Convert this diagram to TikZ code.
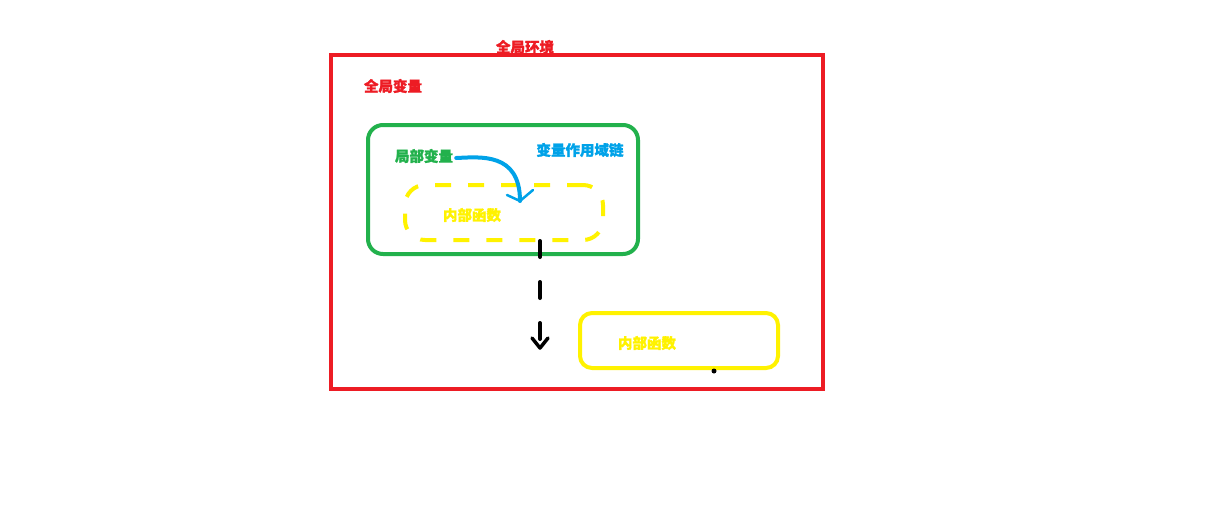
\documentclass[tikz,border=0pt]{standalone}
\usepackage{fontspec}
\newfontfamily\cjk[FakeBold=1.5]{Noto Sans CJK SC}
\definecolor{myred}{HTML}{ED1C24}
\definecolor{mygreen}{HTML}{22B14C}
\definecolor{myblue}{HTML}{00A2E8}
\definecolor{myyellow}{HTML}{FFF200}
\begin{document}
\begin{tikzpicture}[x=1pt,y=-1pt,
  lbl/.style={font=\cjk\bfseries\fontsize{14.5}{16}\selectfont, inner sep=0pt},
  box/.style={line width=4pt, outer sep=0pt}]
\useasboundingbox (0,0) rectangle (1225,515);
% global environment
\node[box, draw=myred, minimum width=492pt, minimum height=334pt, anchor=north west] (global) at (331,55) {};
\node[lbl, text=myred] (gtitle) at (525,47) {全局环境};
\node[lbl, text=myred] (gvar) at (393,86) {全局变量};
% green scope box
\node[box, draw=mygreen, rounded corners=15pt, minimum width=270pt, minimum height=129pt, anchor=north west] (scope) at (368,125) {};
\node[lbl, text=mygreen] (lvar) at (424,156) {局部变量};
\node[lbl, text=myblue] (chain) at (580,150) {变量作用域链};
% inner function dashed
\node[box, draw=myyellow, dash pattern=on 16pt off 17pt, rounded corners=20pt, minimum width=198pt, minimum height=55pt, anchor=north west] (inner1) at (405,185) {};
\node[lbl, text=myyellow] (inner1t) at (472,215) {内部函数};
% inner function solid
\node[box, draw=myyellow, rounded corners=12pt, minimum width=198pt, minimum height=55pt, anchor=north west] (inner2) at (580,313) {};
\node[lbl, text=myyellow] (inner2t) at (647,343) {内部函数};
% blue curved arrow
\coordinate (bend) at (520,201);
\draw[myblue, line width=4pt, line cap=round] (lvar.east) ++(3,2) .. controls (480,157) and (520,152) .. (bend);
\draw[myblue, line width=2.5pt, line cap=round, line join=round] (507,195) -- (bend) -- (533,190);
% black dashed arrow
\coordinate (tip) at (540,348);
\draw[black, line width=4pt, line cap=round, dash pattern=on 16pt off 25pt] (540,241) -- (tip);
\draw[black, line width=3.5pt, line cap=round, line join=round] (532,338) -- (tip) -- (548,338);
% dot
\fill[black] (714,371) circle (2.5pt);
\end{tikzpicture}
\end{document}
